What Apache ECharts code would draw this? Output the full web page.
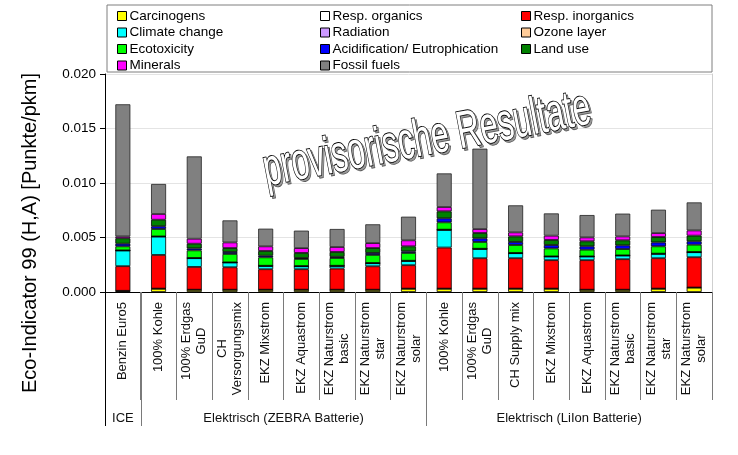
<!DOCTYPE html>
<html>
<head>
<meta charset="utf-8">
<script src="https://cdn.jsdelivr.net/npm/echarts@6/dist/echarts.min.js"></script>
<style>html,body{margin:0;padding:0;background:#fff}#c{width:738px;height:455px}</style>
</head>
<body>
<div id="c"></div>
<script>
// ---- data ----
const categories = ['Benzin Euro5','100% Kohle','100% Erdgas\nGuD','CH\nVersorgungsmix','EKZ Mixstrom','EKZ Aquastrom','EKZ Naturstrom\nbasic','EKZ Naturstrom\nstar','EKZ Naturstrom\nsolar','100% Kohle','100% Erdgas\nGuD','CH Supply mix','EKZ Mixstrom','EKZ Aquastrom','EKZ Naturstrom\nbasic','EKZ Naturstrom\nstar','EKZ Naturstrom\nsolar'];
const groups = ['ICE','Elektrisch (ZEBRA Batterie)','Elektrisch (LiIon Batterie)'];
const groupStart = [0, 1, 9];
const groupEnd = [0, 8, 16];
const yTicks = [0, 0.005, 0.010, 0.015, 0.020];

const carcinogens   = [0.00010,0.00030,0.00020,0.00020,0.00020,0.00020,0.00020,0.00020,0.00030,0.00030,0.00030,0.00030,0.00030,0.00020,0.00020,0.00030,0.00040];
const respOrganics  = [0.00001,0.00001,0.00001,0.00001,0.00001,0.00001,0.00001,0.00001,0.00001,0.00001,0.00001,0.00001,0.00001,0.00001,0.00001,0.00001,0.00001];
const respInorganics= [0.00226,0.00309,0.00209,0.00206,0.00188,0.00188,0.00194,0.00215,0.00215,0.00377,0.00279,0.00279,0.00261,0.00271,0.00280,0.00279,0.00278];
const climateChange = [0.00143,0.00168,0.00080,0.00043,0.00030,0.00027,0.00024,0.00028,0.00039,0.00162,0.00085,0.00046,0.00033,0.00033,0.00033,0.00040,0.00046];
const radiation     = [0.00001,0.00001,0.00001,0.00001,0.00001,0.00001,0.00001,0.00001,0.00001,0.00001,0.00001,0.00001,0.00001,0.00001,0.00001,0.00001,0.00001];
const ozoneLayer    = [0.00001,0.00001,0.00001,0.00001,0.00001,0.00001,0.00001,0.00001,0.00001,0.00001,0.00001,0.00001,0.00001,0.00001,0.00001,0.00001,0.00001];
const ecotoxicity   = [0.00037,0.00068,0.00070,0.00077,0.00077,0.00065,0.00071,0.00074,0.00071,0.00067,0.00062,0.00073,0.00073,0.00061,0.00058,0.00067,0.00067];
const acidification = [0.00024,0.00025,0.00018,0.00018,0.00015,0.00009,0.00011,0.00018,0.00015,0.00037,0.00033,0.00028,0.00031,0.00031,0.00034,0.00036,0.00031];
const landUse       = [0.00050,0.00060,0.00043,0.00036,0.00043,0.00046,0.00044,0.00045,0.00046,0.00064,0.00049,0.00051,0.00046,0.00046,0.00046,0.00049,0.00052];
const minerals      = [0.00017,0.00053,0.00046,0.00052,0.00043,0.00045,0.00046,0.00046,0.00055,0.00040,0.00037,0.00037,0.00040,0.00036,0.00036,0.00037,0.00048];
const fossilFuels   = [0.01212,0.00275,0.00755,0.00202,0.00162,0.00160,0.00165,0.00172,0.00217,0.00308,0.00737,0.00248,0.00204,0.00205,0.00209,0.00214,0.00257];

const seriesDefs = [
  ['Carcinogens', carcinogens, '#FFFF00'],
  ['Resp. organics', respOrganics, '#FFFFFF'],
  ['Resp. inorganics', respInorganics, '#FF0000'],
  ['Climate change', climateChange, '#00FFFF'],
  ['Radiation', radiation, '#CC99FF'],
  ['Ozone layer', ozoneLayer, '#FFCC99'],
  ['Ecotoxicity', ecotoxicity, '#00FF00'],
  ['Acidification/ Eutrophication', acidification, '#0000FF'],
  ['Land use', landUse, '#008000'],
  ['Minerals', minerals, '#FF00FF'],
  ['Fossil fuels', fossilFuels, '#808080']
];
const legendCols = [
  ['Carcinogens','Climate change','Ecotoxicity','Minerals'],
  ['Resp. organics','Radiation','Acidification/ Eutrophication','Fossil fuels'],
  ['Resp. inorganics','Ozone layer','Land use']
];
const legendLeft = [117, 320, 521];

const FONT = 'Liberation Sans, Arial, sans-serif';
const chart = echarts.init(document.getElementById('c'), null, {renderer: 'canvas'});

const option = {
  animation: false,
  backgroundColor: '#fff',
  textStyle: {fontFamily: FONT},
  grid: {left: 105, right: 26, top: 74, bottom: 163},
  legend: legendCols.map((col, i) => ({
    orient: 'vertical', left: legendLeft[i], top: 9, padding: 0,
    data: col, itemWidth: 9, itemHeight: 9, itemGap: 2.5,
    icon: 'rect', selectedMode: false,
    itemStyle: {borderColor: '#000', borderWidth: 1},
    textStyle: {fontSize: 13.5, lineHeight: 13, color: '#000', fontFamily: FONT, padding: [0,0,0,-2]}
  })),
  xAxis: {
    type: 'category', data: categories,
    axisLine: {lineStyle: {color: '#000', width: 1}},
    axisTick: {show: true, interval: 0, length: 108, lineStyle: {color: '#7a7a7a'}},
    axisLabel: {
      interval: 0, rotate: 90, margin: 10, fontSize: 13, color: '#111', fontFamily: FONT,
      formatter: v => v.split('\n').map(s => '{c|' + s + '}').join('\n'),
      rich: {c: {align: 'center', fontSize: 13, fontFamily: FONT, color: '#111', lineHeight: 15}}
    }
  },
  yAxis: [{
    type: 'value', min: 0, max: 0.02, interval: 0.005,
    axisLine: {show: true, lineStyle: {color: '#000'}},
    axisTick: {show: true, length: 5, lineStyle: {color: '#000'}},
    axisLabel: {margin: 9, fontSize: 13.5, color: '#000', fontFamily: FONT,
      formatter: v => v.toFixed(3)},
    splitLine: {lineStyle: {color: '#e4e4e4'}}
  }, {
    type: 'value', min: 0, max: 0.02, interval: 0.005, position: 'right',
    axisLine: {show: true, lineStyle: {color: '#cfcfcf'}},
    axisTick: {show: false}, axisLabel: {show: false}, splitLine: {show: false}
  }],
  series: seriesDefs.map(([name, data, color]) => ({
    name, type: 'bar', stack: 'total', data, barWidth: 15,
    itemStyle: {color, borderColor: name === 'Fossil fuels' ? '#222' : '#000', borderWidth: 0.8}
  }))
};
chart.setOption(option);

// decorations placed through the library's own scales
const px = i => chart.convertToPixel({xAxisIndex: 0}, i);
const py = v => chart.convertToPixel({yAxisIndex: 0}, v);
const bw = px(1) - px(0);
const y0 = py(0);
const g = [];
g.push({type: 'rect', z: -10, shape: {x: 107, y: 5, width: 605, height: 67},
  style: {fill: '#fff', stroke: '#7f7f7f', lineWidth: 1}});
// group separators
[0, 1, 9].forEach(i => {
  const x = Math.round(px(i) - bw / 2) + 0.5;
  g.push({type: 'line', z: 5, shape: {x1: x, y1: y0, x2: x, y2: 426},
    style: {stroke: i === 0 ? '#000' : '#7a7a7a', lineWidth: 1}});
});
groups.forEach((name, k) => {
  const xc = (px(groupStart[k]) + px(groupEnd[k])) / 2;
  g.push({type: 'text', z: 5, x: xc, y: 418,
    style: {text: name, fontSize: 13, fontFamily: FONT, fill: '#111', align: 'center', verticalAlign: 'middle'}});
});
// axis title
g.push({type: 'text', z: 5, x: 30, y: 233, rotation: Math.PI / 2,
  style: {text: 'Eco-Indicator 99 (H,A) [Punkte/pkm]', fontSize: 20, fontFamily: FONT, fill: '#000', align: 'center', verticalAlign: 'middle'}});
// watermark
const wm = 'provisorische Resultate';
g.push({type: 'text', z: 20, x: 429, y: 142, rotation: 0.19, scaleY: 1.65,
  style: {text: wm, fontSize: 32, fontFamily: FONT, fill: '#999', stroke: '#555', lineWidth: 1, align: 'center', verticalAlign: 'middle'}});
g.push({type: 'text', z: 21, x: 427, y: 140, rotation: 0.19, scaleY: 1.65,
  style: {text: wm, fontSize: 32, fontFamily: FONT, fill: '#fff', stroke: '#000', lineWidth: 1.1, align: 'center', verticalAlign: 'middle'}});
chart.setOption({graphic: g});
</script>
</body>
</html>
